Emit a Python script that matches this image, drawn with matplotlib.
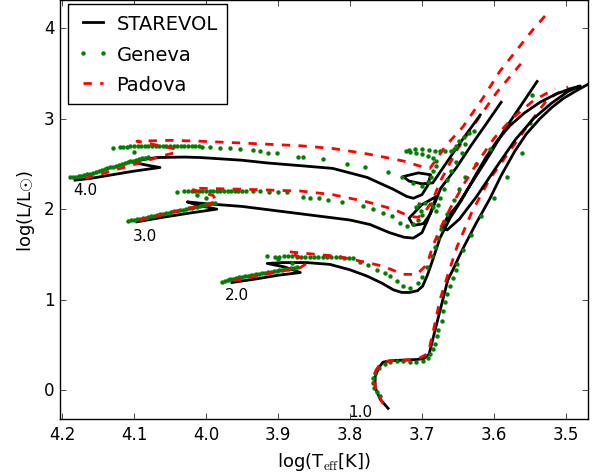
import matplotlib
matplotlib.use("Agg")
import matplotlib.pyplot as plt

plt.style.use("classic")
plt.rcParams["figure.facecolor"] = "white"
plt.rcParams["savefig.facecolor"] = "white"

# ---- STAREVOL tracks (black) ----
sta_10_T = [3.747, 3.758, 3.765, 3.765, 3.760, 3.754, 3.745, 3.735, 3.720, 3.707, 3.697, 3.690, 3.686, 3.679, 3.671,
            3.664, 3.657, 3.644, 3.625, 3.606, 3.590, 3.571, 3.555, 3.536, 3.520, 3.504, 3.485, 3.469]
sta_10_L = [-0.20, -0.10, 0.03, 0.15, 0.25, 0.31, 0.325, 0.33, 0.335, 0.34, 0.35, 0.40, 0.53, 0.75, 1.00,
            1.22, 1.33, 1.55, 1.84, 2.11, 2.37, 2.64, 2.83, 3.00, 3.12, 3.22, 3.31, 3.38]

sta_20_T = [3.964, 3.930, 3.900, 3.869, 3.890, 3.915, 3.893, 3.860, 3.828, 3.800, 3.776, 3.755, 3.740, 3.728,
            3.717, 3.706, 3.699, 3.692, 3.685, 3.675, 3.661, 3.645, 3.628, 3.612, 3.596, 3.578, 3.558, 3.536,
            3.514, 3.494, 3.480, 3.497, 3.520, 3.545, 3.570, 3.597, 3.624, 3.648, 3.665, 3.672, 3.664, 3.650,
            3.630, 3.606, 3.585, 3.562, 3.540]
sta_20_L = [1.19, 1.23, 1.27, 1.30, 1.36, 1.40, 1.41, 1.41, 1.39, 1.33, 1.26, 1.18, 1.11, 1.08,
            1.08, 1.10, 1.15, 1.28, 1.44, 1.68, 1.90, 2.10, 2.34, 2.56, 2.75, 2.92, 3.06, 3.18,
            3.27, 3.33, 3.36, 3.30, 3.17, 3.00, 2.77, 2.46, 2.14, 1.89, 1.77, 1.80, 1.92, 2.05,
            2.30, 2.60, 2.88, 3.15, 3.41]

sta_30_T = [4.096, 4.060, 4.020, 3.985, 4.010, 4.026, 4.000, 3.950, 3.900, 3.850, 3.800, 3.772, 3.745, 3.725,
            3.712, 3.700, 3.692, 3.685, 3.680, 3.700, 3.718, 3.712, 3.698, 3.688, 3.674, 3.652, 3.632, 3.610, 3.590]
sta_30_L = [1.86, 1.91, 1.96, 2.00, 2.04, 2.08, 2.06, 2.03, 1.98, 1.93, 1.88, 1.83, 1.74, 1.69,
            1.68, 1.74, 1.88, 2.03, 2.14, 2.05, 1.90, 1.82, 1.84, 1.95, 2.23, 2.46, 2.70, 2.95, 3.18]

sta_40_T = [4.182, 4.160, 4.130, 4.100, 4.064, 4.085, 4.103, 4.085, 4.068, 4.030, 4.008, 3.950, 3.915, 3.869,
            3.824, 3.776, 3.740, 3.721, 3.712, 3.700, 3.692, 3.688, 3.705, 3.726, 3.718, 3.700, 3.685,
            3.661, 3.640, 3.619]
sta_40_L = [2.32, 2.34, 2.38, 2.42, 2.46, 2.49, 2.52, 2.55, 2.57, 2.575, 2.57, 2.54, 2.51, 2.48,
            2.45, 2.35, 2.22, 2.14, 2.12, 2.16, 2.26, 2.38, 2.40, 2.36, 2.31, 2.28, 2.29,
            2.57, 2.81, 3.04]

# ---- Padova tracks (red dashed) ----
pad_10_T = [3.754, 3.762, 3.768, 3.764, 3.758, 3.748, 3.735, 3.720, 3.707, 3.693, 3.689, 3.683, 3.675, 3.663,
            3.651, 3.630, 3.606, 3.580, 3.555, 3.526, 3.497]
pad_10_L = [-0.15, -0.02, 0.12, 0.22, 0.29, 0.32, 0.33, 0.335, 0.34, 0.40, 0.49, 0.70, 1.00, 1.30,
            1.59, 1.98, 2.33, 2.62, 2.90, 3.21, 3.35]

pad_20_T = [3.962, 3.930, 3.900, 3.870, 3.860, 3.870, 3.886, 3.846, 3.818, 3.782, 3.754, 3.726, 3.707, 3.693,
            3.685, 3.675, 3.660, 3.640, 3.620, 3.600, 3.575, 3.545, 3.515]
pad_20_L = [1.21, 1.26, 1.31, 1.35, 1.40, 1.47, 1.53, 1.50, 1.48, 1.42, 1.37, 1.28, 1.28, 1.39,
            1.59, 1.78, 2.02, 2.30, 2.55, 2.78, 3.00, 3.20, 3.33]

pad_30_T = [4.092, 4.060, 4.030, 4.000, 3.985, 3.990, 4.020, 4.008, 3.950, 3.869, 3.824, 3.776, 3.740, 3.717,
            3.705, 3.695, 3.685, 3.675, 3.651, 3.620, 3.596, 3.560]
pad_30_L = [1.88, 1.94, 2.00, 2.05, 2.08, 2.15, 2.22, 2.23, 2.22, 2.20, 2.16, 2.08, 2.00, 1.92,
            1.91, 1.98, 2.10, 2.30, 2.66, 3.02, 3.29, 3.63]

pad_40_T = [4.168, 4.140, 4.110, 4.080, 4.060, 4.045, 4.040, 4.070, 4.096, 4.050, 4.008, 3.950, 3.869, 3.824,
            3.776, 3.750, 3.725, 3.705, 3.689, 3.680, 3.668, 3.643, 3.615, 3.592, 3.568, 3.546, 3.525]
pad_40_L = [2.34, 2.40, 2.47, 2.54, 2.59, 2.62, 2.66, 2.71, 2.75, 2.76, 2.75, 2.73, 2.70, 2.67,
            2.61, 2.57, 2.53, 2.48, 2.45, 2.55, 2.69, 2.91, 3.23, 3.52, 3.76, 3.98, 4.17]

# ---- Geneva tracks (green dots) ----
gen_10_T = [3.758, 3.762, 3.766, 3.768, 3.768, 3.765, 3.760, 3.752, 3.744, 3.735, 3.726, 3.717, 3.708, 3.699,
            3.692, 3.689, 3.685, 3.682, 3.679, 3.678, 3.672, 3.671, 3.668, 3.665, 3.661, 3.657, 3.653, 3.651,
            3.643, 3.632, 3.618, 3.600, 3.582, 3.561, 3.550, 3.547]
gen_10_L = [-0.06, -0.02, 0.03, 0.08, 0.13, 0.19, 0.25, 0.29, 0.31, 0.32, 0.32, 0.31, 0.315, 0.32,
            0.36, 0.40, 0.46, 0.51, 0.60, 0.67, 0.76, 0.87, 0.97, 1.06, 1.15, 1.24, 1.33, 1.39,
            1.55, 1.71, 1.92, 2.12, 2.35, 2.62, 2.95, 3.26]

gen_20_T = [3.978, 3.974, 3.970, 3.966, 3.962, 3.958, 3.954, 3.950, 3.946, 3.942, 3.938, 3.934, 3.930, 3.926,
            3.922, 3.918, 3.914, 3.910, 3.906, 3.902, 3.898, 3.894, 3.890, 3.886, 3.882, 3.878, 3.874,
            3.880, 3.900, 3.915, 3.904, 3.898, 3.892, 3.886, 3.880, 3.874, 3.868, 3.862, 3.856, 3.850, 3.844,
            3.838, 3.832, 3.826, 3.820, 3.814, 3.808, 3.802, 3.796, 3.786, 3.775, 3.763, 3.752, 3.744, 3.735,
            3.726, 3.717, 3.706, 3.700, 3.693, 3.686, 3.682, 3.678, 3.674, 3.670, 3.665, 3.656, 3.648, 3.640,
            3.625, 3.606]
gen_20_L = [1.200, 1.208, 1.216, 1.224, 1.232, 1.239, 1.246, 1.252, 1.258, 1.264, 1.270, 1.276, 1.282, 1.288,
            1.293, 1.298, 1.303, 1.308, 1.313, 1.318, 1.323, 1.328, 1.334, 1.340, 1.346, 1.353, 1.360,
            1.40, 1.45, 1.48, 1.475, 1.477, 1.478, 1.478, 1.478, 1.477, 1.476, 1.476, 1.475, 1.475, 1.474,
            1.473, 1.472, 1.471, 1.470, 1.468, 1.465, 1.462, 1.455, 1.42, 1.38, 1.33, 1.30, 1.26, 1.21,
            1.15, 1.13, 1.18, 1.25, 1.36, 1.48, 1.58, 1.68, 1.78, 1.86, 1.95, 2.10, 2.22, 2.35,
            2.50, 2.66]

gen_30_T = [4.108, 4.104, 4.100, 4.096, 4.092, 4.088, 4.084, 4.080, 4.076, 4.072, 4.068, 4.064, 4.060, 4.056,
            4.052, 4.048, 4.044, 4.040, 4.036, 4.032, 4.028, 4.024, 4.020, 4.016, 4.012, 4.008, 4.004, 4.000,
            3.996, 3.992, 3.988, 4.000, 4.012, 4.040, 4.030, 4.025, 4.020, 4.015, 4.010, 4.005, 4.000, 3.995,
            3.990, 3.985, 3.980, 3.975, 3.970, 3.965, 3.960, 3.955, 3.950, 3.945, 3.935, 3.925, 3.912, 3.900,
            3.888, 3.865, 3.855, 3.843, 3.830, 3.811, 3.782, 3.768, 3.754, 3.742, 3.731, 3.721, 3.712, 3.705,
            3.700, 3.702, 3.708, 3.704, 3.696, 3.688, 3.684, 3.680, 3.678, 3.675, 3.670, 3.665, 3.660, 3.652,
            3.645, 3.640]
gen_30_L = [1.870, 1.876, 1.882, 1.888, 1.894, 1.900, 1.907, 1.914, 1.921, 1.928, 1.935, 1.942, 1.949, 1.956,
            1.962, 1.968, 1.974, 1.980, 1.987, 1.994, 2.001, 2.008, 2.015, 2.022, 2.029, 2.036, 2.043, 2.050,
            2.057, 2.064, 2.072, 2.12, 2.16, 2.19, 2.195, 2.198, 2.200, 2.202, 2.203, 2.203, 2.203, 2.203,
            2.202, 2.202, 2.201, 2.200, 2.200, 2.199, 2.198, 2.198, 2.197, 2.196, 2.195, 2.195, 2.19, 2.19,
            2.19, 2.13, 2.125, 2.12, 2.10, 2.08, 2.03, 2.00, 1.96, 1.92, 1.85, 1.81, 1.84, 1.88,
            1.93, 1.98, 2.02, 2.06, 2.07, 2.06, 2.02, 1.98, 2.05, 2.12, 2.22, 2.32, 2.42, 2.52,
            2.62, 2.72]

gen_40_T = [4.189, 4.185, 4.181, 4.177, 4.173, 4.169, 4.165, 4.161, 4.157, 4.153, 4.149, 4.145, 4.141, 4.137,
            4.133, 4.129, 4.125, 4.121, 4.117, 4.113, 4.109, 4.105, 4.101, 4.097, 4.093, 4.089, 4.085, 4.081,
            4.100, 4.129, 4.120, 4.115, 4.110, 4.105, 4.100, 4.095, 4.090, 4.085, 4.080, 4.075, 4.070, 4.065,
            4.060, 4.055, 4.050, 4.045, 4.040, 4.035, 4.030, 4.025, 4.020, 4.015, 4.010, 4.005, 3.995, 3.981,
            3.967, 3.953, 3.935, 3.925, 3.914, 3.901, 3.872, 3.865, 3.837, 3.804, 3.779, 3.747, 3.728, 3.712,
            3.700, 3.692, 3.688, 3.684, 3.681, 3.680, 3.685, 3.692, 3.700, 3.708, 3.716, 3.722, 3.718, 3.710,
            3.700, 3.690, 3.682, 3.675, 3.668, 3.660, 3.655, 3.652, 3.648, 3.642, 3.635, 3.628]
gen_40_L = [2.350, 2.353, 2.357, 2.362, 2.368, 2.375, 2.383, 2.392, 2.401, 2.410, 2.420, 2.430, 2.440, 2.450,
            2.460, 2.470, 2.480, 2.490, 2.500, 2.510, 2.519, 2.528, 2.537, 2.546, 2.554, 2.562, 2.569, 2.576,
            2.63, 2.68, 2.684, 2.687, 2.690, 2.692, 2.694, 2.695, 2.697, 2.698, 2.699, 2.700, 2.700, 2.701,
            2.701, 2.701, 2.701, 2.700, 2.700, 2.699, 2.698, 2.697, 2.696, 2.694, 2.692, 2.690, 2.685, 2.68,
            2.675, 2.66, 2.65, 2.64, 2.625, 2.62, 2.58, 2.575, 2.55, 2.50, 2.47, 2.41, 2.35, 2.29,
            2.26, 2.30, 2.36, 2.42, 2.48, 2.53, 2.57, 2.59, 2.61, 2.62, 2.63, 2.64, 2.655, 2.66,
            2.66, 2.655, 2.645, 2.64, 2.64, 2.645, 2.66, 2.70, 2.75, 2.80, 2.84, 2.86]

masses = ["1.0", "2.0", "3.0", "4.0"]
label_T = [3.786, 3.957, 4.085, 4.168]
label_L = [-0.23, 1.06, 1.71, 2.22]

sta_T = [sta_10_T, sta_20_T, sta_30_T, sta_40_T]
sta_L = [sta_10_L, sta_20_L, sta_30_L, sta_40_L]
pad_T = [pad_10_T, pad_20_T, pad_30_T, pad_40_T]
pad_L = [pad_10_L, pad_20_L, pad_30_L, pad_40_L]
gen_T = [gen_10_T, gen_20_T, gen_30_T, gen_40_T]
gen_L = [gen_10_L, gen_20_L, gen_30_L, gen_40_L]

fig = plt.figure(figsize=(5.99, 4.77), dpi=100)
ax = fig.add_axes([0.1, 0.119, 0.882, 0.879])

for i in range(len(masses)):
    lab_s = "STAREVOL" if i == 0 else None
    lab_g = "Geneva" if i == 0 else None
    lab_p = "Padova" if i == 0 else None
    ax.plot(sta_T[i], sta_L[i], color="k", lw=2, label=lab_s)
    ax.plot(gen_T[i], gen_L[i], linestyle="none", marker="o", ms=3.2, mfc="g", mec="g", mew=0, label=lab_g)
    ax.plot(pad_T[i], pad_L[i], color="r", lw=2, ls="--", label=lab_p)
    ax.text(label_T[i], label_L[i], masses[i], fontsize=11, ha="center", va="center")

ax.set_xlim(4.203, 3.469)
ax.set_ylim(-0.32, 4.31)
ax.set_xticks([4.2, 4.1, 4.0, 3.9, 3.8, 3.7, 3.6, 3.5])
ax.set_yticks([0, 1, 2, 3, 4])
ax.tick_params(labelsize=12)
ax.set_xlabel(r"log(T$_{\rm eff}$[K])", fontsize=13)
ax.set_ylabel(r"log(L/L$\odot$)", fontsize=13)

ax.legend(loc="upper left", bbox_to_anchor=(0.015, 0.99), borderaxespad=0, fontsize=14,
          numpoints=2, handlelength=1.6, handletextpad=0.4, labelspacing=0.6, borderpad=0.5)

fig.savefig("out.png", dpi=100)
